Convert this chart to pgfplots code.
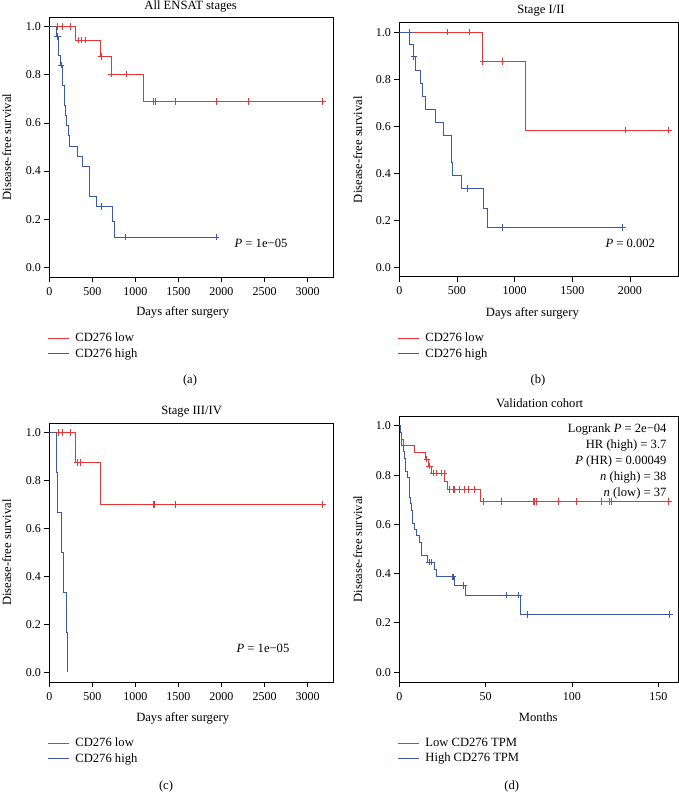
\documentclass[border=0pt]{standalone}
\usepackage{fontspec}
\setmainfont{Liberation Serif}
\usepackage{pgfplots}
\pgfplotsset{compat=1.18}
\definecolor{kmred}{RGB}{232,52,52}
\definecolor{kmblue}{RGB}{60,88,168}
\newcommand\fs{\fontsize{12.6}{15}\selectfont}
\newcommand\ts{\fontsize{12}{14}\selectfont}
\pgfplotsset{
  km/.style={
    scale only axis, xmin=0, ymin=-0.04, ymax=1.04,
    axis line style={black, line width=0.8pt},
    tick align=outside, xtick pos=bottom, ytick pos=left,
    major tick length=5pt,
    every tick/.style={black, line width=0.8pt},
    ytick={0,0.2,0.4,0.6,0.8,1},
    yticklabel style={/pgf/number format/.cd, fixed, fixed zerofill, precision=1},
    xticklabel style={/pgf/number format/1000 sep={}, yshift=-1.5pt},
    /pgf/number format/assume math mode=true,
    tick label style={font=\ts},
    label style={font=\fs},
    every axis title shift=0pt,
    title style={font=\fs, anchor=base},
    xlabel style={anchor=base},
    ylabel style={anchor=base},
    legend style={font=\fs, draw=none, fill=none, inner sep=0pt,
      at={(axis description cs:0,0)}, anchor=north west,
      xshift=-2pt, yshift=-54.0pt, column sep=3.6pt, row sep=1.2pt},
    legend cell align=left,
    legend image code/.code={\draw[##1] (0pt,0pt) -- (21.4pt,0pt);},
    every axis plot/.append style={line width=0.9pt},
  },
  cens/.style={only marks, mark=+, mark size=3.3pt, forget plot},
}
\begin{document}
\begin{tikzpicture}
% ---------------- (a) ----------------
\begin{axis}[km, at={(49.3pt,527pt)}, anchor=south west,
  width=284.1pt, height=260pt, xmax=3300, xtick={0,500,...,3000},
  title={All ENSAT stages}, title style={at={(axis description cs:0.4977,1.0288)}},
  xlabel={Days after surgery}, xlabel style={at={(axis description cs:0.4696,-0.1488)}},
  ylabel={Disease-free survival}, ylabel style={at={(axis description cs:-0.1348,0.5)}}]
\addplot[kmred, const plot, no marks] coordinates {
(0,1) (302,0.944) (597,0.876) (720,0.803) (1092,0.689) (3180,0.689)};
\addlegendentry{CD276 low}
\addplot[kmblue, const plot, no marks] coordinates {
(0,1) (85,0.96) (105,0.88) (124,0.84) (151,0.756) (171,0.714) (180,0.672)
(190,0.63) (205,0.588) (221,0.546) (233,0.504) (325,0.462) (387,0.42)
(465,0.294) (542,0.252) (728,0.189) (760,0.126) (1936,0.126)};
\addlegendentry{CD276 high}
\addplot[kmred, cens] coordinates {
(93,1) (155,1) (248,1) (337,0.944) (376,0.944) (423,0.944) (600,0.876)
(722,0.803) (899,0.803) (1208,0.689) (1228,0.689) (1468,0.689) (1944,0.689)
(2316,0.689) (3175,0.689)};
\addplot[kmblue, cens] coordinates {
(95,0.96) (136,0.84) (600,0.252) (887,0.126) (1936,0.126)};
\node[font=\fs, anchor=base] at (axis cs:2459,0.0846) {\textit{P} = 1e−05};
\end{axis}
% ---------------- (b) ----------------
\begin{axis}[km, at={(399.3pt,527.3pt)}, anchor=south west,
  width=279pt, height=254pt, xmax=2419, xtick={0,500,...,2000},
  title={Stage I/II}, title style={at={(axis description cs:0.508,1.037)}},
  xlabel={Days after surgery}, xlabel style={at={(axis description cs:0.477,-0.1575)}},
  ylabel={Disease-free survival}, ylabel style={at={(axis description cs:-0.1337,0.5)}}]
\addplot[kmred, const plot, no marks] coordinates {
(0,1) (723,0.875) (1098,0.583) (2340,0.583)};
\addlegendentry{CD276 low}
\addplot[kmblue, const plot, no marks] coordinates {
(0,1) (90,0.947) (127,0.895) (142,0.839) (180,0.783) (200,0.727) (231,0.671)
(316,0.615) (385,0.559) (449,0.447) (460,0.391) (541,0.335) (729,0.251)
(760,0.168) (1935,0.168)};
\addlegendentry{CD276 high}
\addplot[kmred, cens] coordinates {
(87,1) (420,1) (607,1) (725,0.875) (896,0.875) (1957,0.583) (2332,0.583)};
\addplot[kmblue, cens] coordinates {
(90,1) (127,0.895) (593,0.335) (893,0.168) (1935,0.168)};
\node[font=\fs, anchor=base] at (axis cs:2003,0.085) {\textit{P} = 0.002};
\end{axis}
% ---------------- (c) ----------------
\begin{axis}[km, at={(49.3pt,122pt)}, anchor=south west,
  width=284.1pt, height=259pt, xmax=3300, xtick={0,500,...,3000},
  title={Stage III/IV}, title style={at={(axis description cs:0.501,1.0332)}},
  xlabel={Days after surgery}, xlabel style={at={(axis description cs:0.4696,-0.1533)}},
  ylabel={Disease-free survival}, ylabel style={at={(axis description cs:-0.1348,0.5)}}]
\addplot[kmred, const plot, no marks] coordinates {
(0,1) (306,0.875) (593,0.70) (3180,0.70)};
\addlegendentry{CD276 low}
\addplot[kmblue, const plot, no marks] coordinates {
(0,1) (87,0.833) (100,0.667) (143,0.5) (160,0.333) (194,0.167) (207,0)};
\addlegendentry{CD276 high}
\addplot[kmred, cens] coordinates {
(105,1) (155,1) (248,1) (325,0.875) (357,0.875) (1208,0.70) (1224,0.70)
(1468,0.70) (3175,0.70)};
\node[font=\fs, anchor=base] at (axis cs:2482,0.082) {\textit{P} = 1e−05};
\end{axis}
% ---------------- (d) ----------------
\begin{axis}[km, at={(399.3pt,122pt)}, anchor=south west,
  width=279pt, height=266pt, xmax=161.6, xtick={0,50,100,150},
  title={Validation cohort}, title style={at={(axis description cs:0.503,1.0316)}},
  xlabel={Months}, xlabel style={at={(axis description cs:0.498,-0.1477)}},
  ylabel={Disease-free survival}, ylabel style={at={(axis description cs:-0.1334,0.5)}}]
\addplot[kmred, const plot, no marks] coordinates {
(0,1) (0.8,0.973) (1.5,0.946) (2.3,0.919) (8.5,0.892) (14.9,0.865) (17,0.837)
(18.5,0.808) (26.4,0.775) (27.8,0.741) (47.1,0.692) (156.5,0.692)};
\addlegendentry{Low CD276 TPM}
\addplot[kmblue, const plot, no marks] coordinates {
(0,1) (0.5,0.974) (1.0,0.947) (1.4,0.921) (2.2,0.895) (2.8,0.868) (3.3,0.842)
(3.7,0.816) (5.0,0.789) (5.6,0.763) (5.8,0.737) (6.0,0.711) (6.3,0.684)
(7.0,0.658) (7.4,0.632) (7.8,0.605) (8.8,0.579) (10.1,0.553) (11.8,0.526)
(12.8,0.500) (13.1,0.474) (16.5,0.447) (20.5,0.417) (21.5,0.387) (32.2,0.352)
(38.1,0.313) (70.1,0.234) (156.4,0.234)};
\addlegendentry{High CD276 TPM}
\addplot[kmred, cens] coordinates {
(16,0.865) (17.6,0.837) (19.7,0.808) (21.6,0.808) (24.5,0.808) (25.9,0.808)
(29.3,0.741) (31.3,0.741) (32.2,0.741) (35.1,0.741) (37.6,0.741) (39.9,0.741)
(43.8,0.741) (49,0.692) (59.3,0.692) (77.6,0.692) (78.2,0.692) (79.2,0.692)
(92.1,0.692) (102.7,0.692) (116.9,0.692) (121.5,0.692) (122.7,0.692) (155.8,0.692)};
\addplot[kmblue, cens] coordinates {
(17.5,0.447) (18.5,0.447) (30.5,0.387) (31.2,0.387) (37.3,0.352) (61.8,0.313)
(69.3,0.313) (74.2,0.234) (156.4,0.234)};
\node[font=\fs, anchor=base east] at (axis cs:156.8,0.971) {Logrank \textit{P} = 2e−04};
\node[font=\fs, anchor=base east] at (axis cs:156.8,0.910) {HR (high) = 3.7};
\node[font=\fs, anchor=base east] at (axis cs:156.8,0.845) {\textit{P} (HR) = 0.00049};
\node[font=\fs, anchor=base east] at (axis cs:156.8,0.777) {\textit{n} (high) = 38};
\node[font=\fs, anchor=base east] at (axis cs:156.8,0.714) {\textit{n} (low) = 37};
\end{axis}
% ---------------- captions ----------------
\node[font=\fs, anchor=base] at (190pt,420pt) {(a)};
\node[font=\fs, anchor=base] at (538pt,420pt) {(b)};
\node[font=\fs, anchor=base] at (166pt,15pt) {(c)};
\node[font=\fs, anchor=base] at (511.7pt,15pt) {(d)};
\pgfresetboundingbox
\path[use as bounding box] (0pt,0pt) rectangle (679pt,804pt);
\end{tikzpicture}
\end{document}
